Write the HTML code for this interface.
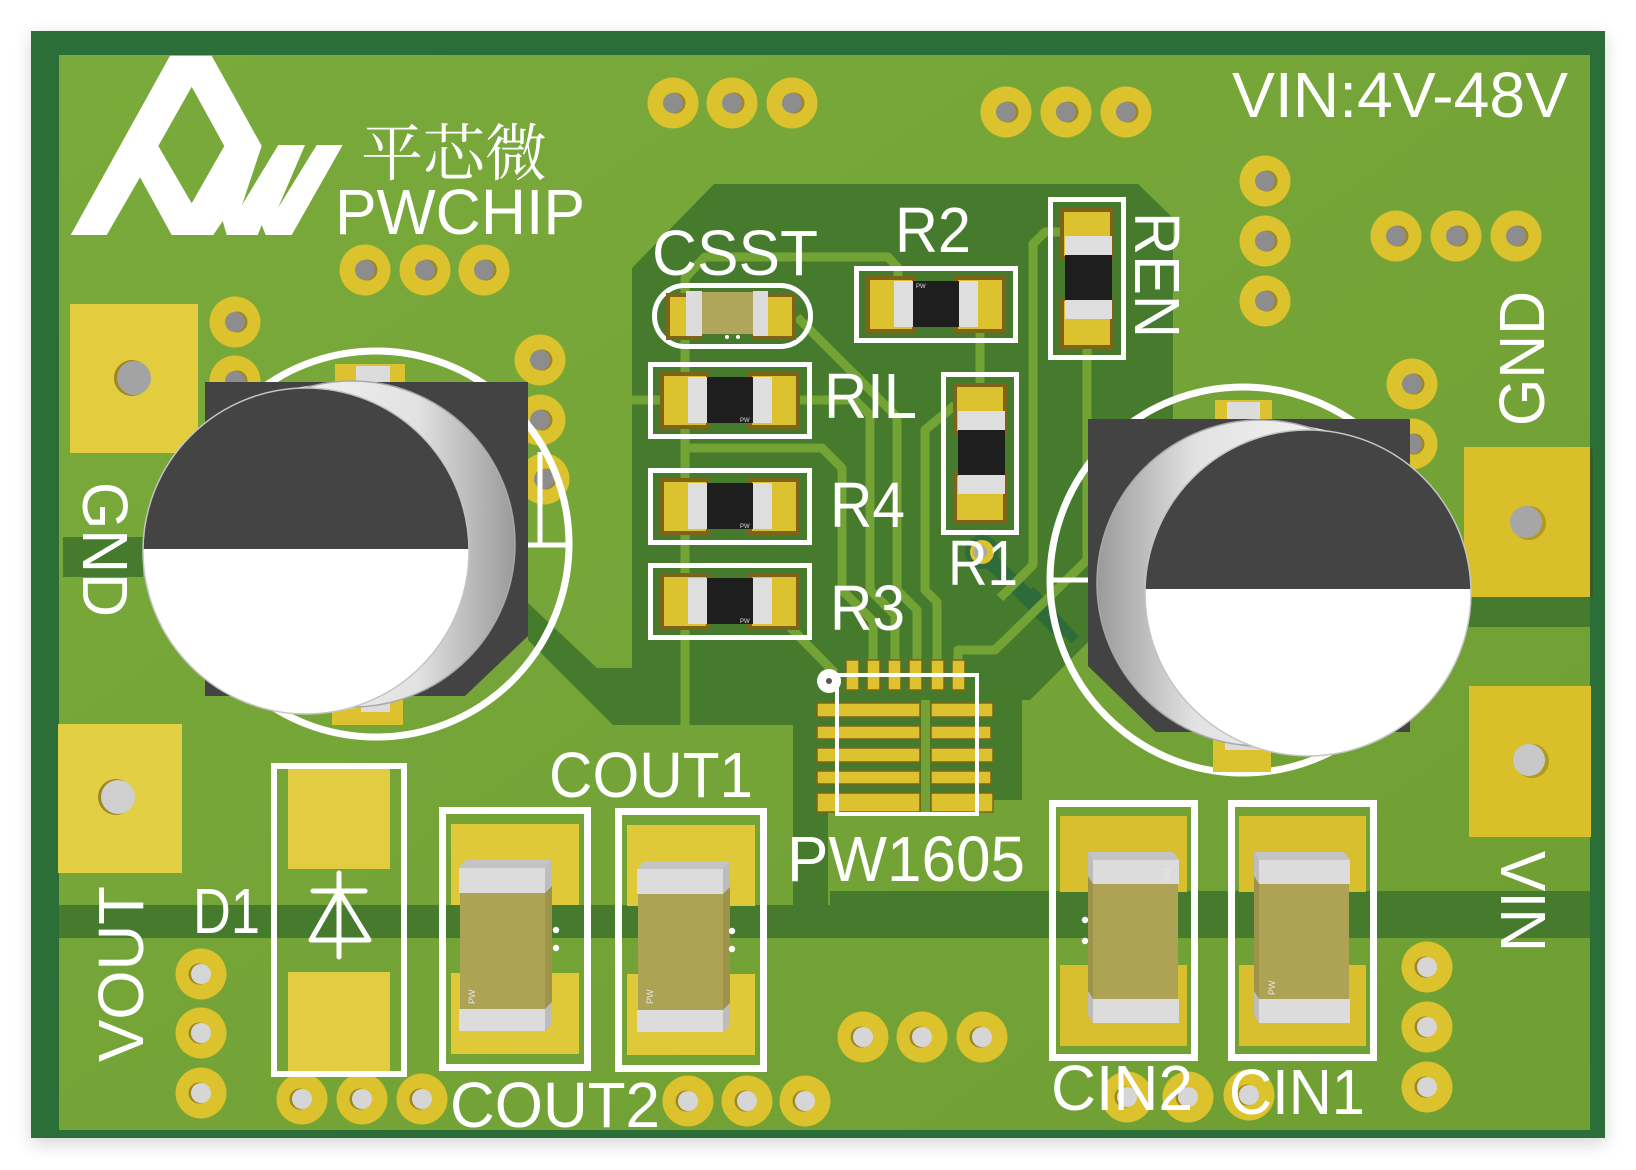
<!DOCTYPE html>
<html><head><meta charset="utf-8">
<style>
html,body{margin:0;padding:0;background:#fff;}
svg{display:block;}
text{font-family:"Liberation Sans",Arial,sans-serif;fill:#fff;}
</style></head><body>
<svg width="1636" height="1170" viewBox="0 0 1636 1170" xmlns="http://www.w3.org/2000/svg">
<defs>
<filter id="sh" x="-10%" y="-10%" width="120%" height="120%"><feGaussianBlur stdDeviation="9"/></filter>
<linearGradient id="lg" x1="0" y1="0" x2="1" y2="1">
 <stop offset="0" stop-color="#7aaa3b"/><stop offset="1" stop-color="#6f9f33"/>
</linearGradient>
<linearGradient id="rimL" x1="0" y1="0" x2="1" y2="0">
 <stop offset="0" stop-color="#ffffff"/><stop offset="0.7" stop-color="#e2e2e2"/><stop offset="1" stop-color="#9a9a9a"/>
</linearGradient>
<linearGradient id="rimR" x1="1" y1="0" x2="0" y2="0">
 <stop offset="0" stop-color="#ffffff"/><stop offset="0.7" stop-color="#e2e2e2"/><stop offset="1" stop-color="#9a9a9a"/>
</linearGradient>
<clipPath id="fL"><circle cx="306" cy="551" r="163"/></clipPath>
<clipPath id="fR"><circle cx="1308" cy="593" r="163"/></clipPath>
<g id="thd"><circle r="25.5" fill="#dcc22c"/><circle cx="2" r="10.5" fill="#9c8720"/><circle r="10" fill="#8d8d8d"/></g>
<g id="thl"><circle r="25.5" fill="#dcc22c"/><circle cx="-2" r="10.5" fill="#9c8720"/><circle r="10" fill="#d6d6d6"/></g>
<g id="rh">
 <rect x="2.5" y="2.5" width="159" height="72" fill="none" stroke="#fff" stroke-width="5"/>
 <rect x="12" y="10" width="50" height="57" fill="#7e6418"/>
 <rect x="16" y="14" width="42" height="49" fill="#dcc22e"/>
 <rect x="100" y="10" width="52" height="57" fill="#7e6418"/>
 <rect x="104" y="14" width="44" height="49" fill="#dcc22e"/>
 <rect x="40" y="15" width="19" height="46" fill="#dedede"/>
 <rect x="59" y="15" width="46" height="46" fill="#1e1e1e"/>
 <rect x="105" y="15" width="19" height="46" fill="#dedede"/>
</g>
<g id="rv">
 <rect x="2.5" y="2.5" width="73" height="158" fill="none" stroke="#fff" stroke-width="5"/>
 <rect x="12" y="11" width="54" height="52" fill="#7e6418"/>
 <rect x="16" y="15" width="46" height="44" fill="#dcc22e"/>
 <rect x="12" y="100" width="54" height="52" fill="#7e6418"/>
 <rect x="16" y="104" width="46" height="44" fill="#dcc22e"/>
 <rect x="17" y="39" width="47" height="19" fill="#dedede"/>
 <rect x="17" y="58" width="47" height="45" fill="#1e1e1e"/>
 <rect x="17" y="103" width="47" height="19" fill="#dedede"/>
</g>
</defs>

<rect width="1636" height="1170" fill="#fff"/>
<rect x="31" y="36" width="1574" height="1108" fill="#000" opacity="0.16" filter="url(#sh)"/>
<rect x="31" y="31" width="1574" height="1107" fill="#2b6e37"/>
<rect x="59" y="55" width="1531" height="1075" fill="url(#lg)"/>

<!-- dark pours -->
<g fill="#467b2e">
<polygon points="714,184 1138,184 1173,218 1173,430 1090,430 1090,640 1030,700 1022,700 1022,800 993,800 993,812 828,812 828,905 793,905 793,725 613,725 528,640 528,603 597,668 632,668 632,268"/>
<rect x="59" y="905" width="1531" height="33"/>
<rect x="830" y="891" width="760" height="16"/>
<rect x="63" y="537" width="80" height="40"/>
<rect x="1467" y="597" width="123" height="30"/>
</g>
<!-- bottom layer traces -->
<polyline points="975,545 1065,635" fill="none" stroke="#2d6b3a" stroke-width="16"/>
<polyline points="1030,590 1075,640" fill="none" stroke="#2d6b3a" stroke-width="10"/>

<!-- traces -->
<g fill="none" stroke="#73a235" stroke-width="9" stroke-linejoin="round" stroke-linecap="butt">
<polyline points="685,725 685,278 705,257 888,257 898,268 898,280"/>
<polyline points="632,400 665,400"/>
<polyline points="797,317 897,417 897,590 917,610 917,662"/>
<polyline points="795,400 855,400 870,415 870,590 895,615 895,662"/>
<polyline points="685,448 822,448 842,468 842,590 873,621 873,662"/>
<polyline points="785,622 835,673"/>
<polyline points="980,333 980,385"/>
<polyline points="955,405 925,430 925,590 937,602 937,662"/>
<polyline points="1087,348 1087,560 995,650 958,650 958,662"/>
<polyline points="1062,232 1045,232 1033,244 1033,565 1000,598"/>
<polyline points="925.5,700 925.5,812"/>
</g>

<!-- through-hole pads -->
<use href="#thd" x="673" y="103"/><use href="#thd" x="732" y="103"/><use href="#thd" x="792" y="103"/>
<use href="#thd" x="1006" y="112"/><use href="#thd" x="1066" y="112"/><use href="#thd" x="1126" y="112"/>
<use href="#thd" x="365" y="270"/><use href="#thd" x="425" y="270"/><use href="#thd" x="484" y="270"/>
<use href="#thd" x="1265" y="181"/><use href="#thd" x="1265" y="241"/><use href="#thd" x="1265" y="301"/>
<use href="#thd" x="1396" y="236"/><use href="#thd" x="1456" y="236"/><use href="#thd" x="1516" y="236"/>
<use href="#thd" x="235" y="322"/><use href="#thd" x="235" y="381"/>
<use href="#thd" x="540" y="360"/><use href="#thd" x="540" y="420"/><use href="#thd" x="544" y="479"/>
<use href="#thd" x="1412" y="384"/><use href="#thd" x="1412" y="444"/>
<use href="#thl" x="201" y="974"/><use href="#thl" x="201" y="1033"/><use href="#thl" x="201" y="1093"/>
<use href="#thl" x="302" y="1099"/><use href="#thl" x="362" y="1099"/><use href="#thl" x="422" y="1099"/>
<use href="#thl" x="688" y="1101"/><use href="#thl" x="747" y="1101"/><use href="#thl" x="805" y="1101"/>
<use href="#thl" x="863" y="1037"/><use href="#thl" x="922" y="1037"/><use href="#thl" x="982" y="1037"/>
<use href="#thl" x="1427" y="967"/><use href="#thl" x="1427" y="1027"/><use href="#thl" x="1427" y="1087"/>
<use href="#thl" x="1127" y="1097"/><use href="#thl" x="1188" y="1097"/><use href="#thl" x="1249" y="1095"/>

<!-- via near R1 -->
<circle cx="982" cy="552" r="17" fill="#2f6b3c"/>
<circle cx="982" cy="552" r="12" fill="#dcc22e"/>
<circle cx="980" cy="552" r="7" fill="#a9a9a9"/>

<!-- square pads -->
<rect x="70" y="304" width="128" height="149" fill="#e3cd3f"/>
<circle cx="132" cy="378" r="18" fill="#9c8720"/><circle cx="134" cy="378" r="17" fill="#a3a3a3"/>
<rect x="58" y="724" width="124" height="149" fill="#e3cf44"/>
<circle cx="116" cy="797" r="18" fill="#9c8720"/><circle cx="118" cy="797" r="17" fill="#cfcfcf"/>
<rect x="1464" y="447" width="126" height="150" fill="#d9bf2a"/>
<rect x="1590" y="449" width="3" height="148" fill="#3a5a2a"/>
<circle cx="1529" cy="523" r="17" fill="#b09a20"/><circle cx="1526" cy="522" r="16" fill="#a6a6a6"/>
<rect x="1469" y="686" width="122" height="151" fill="#d9bf2a"/>
<circle cx="1532" cy="761" r="17" fill="#b09a20"/><circle cx="1529" cy="760" r="16" fill="#c8c8c8"/>

<!-- logo -->
<path fill="#fff" fill-rule="evenodd" d="M170,55.7 L211.7,55.7 L261.7,146 L242,205 L278.3,145 L305,145 L278,208 L316.7,145 L342.7,145 L291.7,235 L265.7,235 L261.7,225 L257.7,235 L226.7,235 L222.7,221 L213.3,235 L171.7,235 L140,177.3 L106.7,235 L70.7,235 Z M191.7,86.7 L224.3,146 L191.7,203.3 L158.3,146 Z"/>

<!-- resistors -->
<use href="#rh" x="648" y="362"/>
<use href="#rh" x="648" y="468"/>
<use href="#rh" x="648" y="563"/>
<use href="#rh" x="854" y="266"/>
<use href="#rv" x="941" y="372"/>
<use href="#rv" x="1048" y="197"/>
<g font-size="6" style="fill:#ddd">
<text x="740" y="422" style="fill:#ddd">PW</text>
<text x="740" y="528" style="fill:#ddd">PW</text>
<text x="740" y="623" style="fill:#ddd">PW</text>
<text x="916" y="288" style="fill:#ddd">PW</text>
</g>

<!-- CSST -->
<rect x="654.5" y="285.5" width="156" height="61" rx="30.5" fill="none" stroke="#fff" stroke-width="5"/>
<rect x="666" y="293" width="36" height="47" fill="#7e6418"/>
<rect x="670" y="297" width="28" height="39" fill="#dcc22e"/>
<rect x="752" y="293" width="44" height="47" fill="#7e6418"/>
<rect x="756" y="297" width="36" height="39" fill="#dcc22e"/>
<rect x="686" y="291" width="16" height="45" fill="#dcdcdc"/>
<rect x="702" y="292" width="51" height="42" fill="#b0a55a"/>
<rect x="753" y="291" width="15" height="45" fill="#dcdcdc"/>
<circle cx="727" cy="337" r="2" fill="#fff"/><circle cx="738" cy="337" r="2" fill="#fff"/>

<!-- IC PW1605 -->
<g fill="#dcc22e" stroke="#7e6418" stroke-width="1.5">
<rect x="846" y="660" width="13" height="30"/><rect x="867" y="660" width="13" height="30"/>
<rect x="888" y="660" width="13" height="30"/><rect x="909" y="660" width="13" height="30"/>
<rect x="931" y="660" width="13" height="30"/><rect x="952" y="660" width="13" height="30"/>
<rect x="817" y="703" width="103" height="14"/><rect x="931" y="703" width="62" height="14"/>
<rect x="817" y="726" width="103" height="13"/><rect x="931" y="726" width="60" height="13"/>
<rect x="817" y="748" width="103" height="14"/><rect x="931" y="748" width="62" height="14"/>
<rect x="817" y="771" width="103" height="13"/><rect x="931" y="771" width="60" height="13"/>
<rect x="817" y="793" width="103" height="19"/><rect x="931" y="793" width="62" height="19"/>
</g>
<rect x="837" y="675" width="140" height="139" fill="none" stroke="#fff" stroke-width="4"/>
<circle cx="829" cy="681" r="12" fill="#fff"/><circle cx="829" cy="681" r="3" fill="#555"/>

<!-- D1 -->
<rect x="288" y="768" width="102" height="101" fill="#e2cd42"/>
<rect x="288" y="972" width="102" height="100" fill="#e2cd42"/>
<rect x="274" y="766" width="130" height="308" fill="none" stroke="#fff" stroke-width="6"/>
<g stroke="#fff" stroke-width="5" fill="none" stroke-linecap="round" stroke-linejoin="round">
<line x1="339" y1="873" x2="339" y2="957"/>
<line x1="313" y1="891" x2="365" y2="891"/>
<polygon points="339,891 311,940 369,940"/>
</g>

<!-- COUT caps -->
<g id="coutL">
<rect x="451" y="824" width="128" height="81" fill="#dfc939"/>
<rect x="451" y="973" width="128" height="81" fill="#dfc939"/>
<rect x="442.5" y="810.5" width="145" height="257" fill="none" stroke="#fff" stroke-width="7"/>
<polygon points="459,868 466,860 552,860 545,868" fill="#c4c4c4"/>
<rect x="459" y="868" width="86" height="25" fill="#dcdcdc"/>
<polygon points="545,868 552,860 552,886 545,893" fill="#bdbdbd"/>
<rect x="460" y="893" width="85" height="116" fill="#aea355"/>
<polygon points="545,893 552,886 552,1002 545,1009" fill="#9d934a"/>
<rect x="459" y="1009" width="86" height="22" fill="#dcdcdc"/>
<polygon points="545,1009 552,1002 552,1024 545,1031" fill="#bdbdbd"/>
<circle cx="556" cy="930" r="3.2" fill="#fff"/><circle cx="556" cy="948" r="3.2" fill="#fff"/>
</g>
<text transform="translate(475,1004) rotate(-90)" font-size="9" style="fill:#e6e6e6">PW</text>
<g transform="translate(176,1)">
<rect x="451" y="824" width="128" height="81" fill="#dfc939"/>
<rect x="451" y="973" width="128" height="81" fill="#dfc939"/>
<rect x="442.5" y="810.5" width="145" height="257" fill="none" stroke="#fff" stroke-width="7"/>
<polygon points="461,868 468,860 554,860 547,868" fill="#c4c4c4"/>
<rect x="461" y="868" width="86" height="25" fill="#dcdcdc"/>
<polygon points="547,868 554,860 554,886 547,893" fill="#bdbdbd"/>
<rect x="462" y="893" width="85" height="116" fill="#aea355"/>
<polygon points="547,893 554,886 554,1002 547,1009" fill="#9d934a"/>
<rect x="461" y="1009" width="86" height="22" fill="#dcdcdc"/>
<polygon points="547,1009 554,1002 554,1024 547,1031" fill="#bdbdbd"/>
<circle cx="556" cy="930" r="3.2" fill="#fff"/><circle cx="556" cy="948" r="3.2" fill="#fff"/>
</g>
<text transform="translate(653,1004) rotate(-90)" font-size="9" style="fill:#e6e6e6">PW</text>

<!-- CIN caps -->
<rect x="1060" y="816" width="127" height="76" fill="#d9bf2e"/>
<rect x="1060" y="965" width="127" height="81" fill="#d9bf2e"/>
<rect x="1052.5" y="803.5" width="142" height="254" fill="none" stroke="#fff" stroke-width="7"/>
<polygon points="1088,852 1173,852 1179,860 1093,860" fill="#c4c4c4"/>
<rect x="1093" y="860" width="86" height="24" fill="#dcdcdc"/>
<polygon points="1088,852 1093,860 1093,884 1088,876" fill="#bdbdbd"/>
<rect x="1093" y="884" width="85" height="115" fill="#aea355"/>
<polygon points="1088,876 1093,884 1093,999 1088,991" fill="#9d934a"/>
<rect x="1093" y="999" width="86" height="24" fill="#dcdcdc"/>
<polygon points="1088,991 1093,999 1093,1023 1088,1015" fill="#bdbdbd"/>
<circle cx="1085" cy="920" r="3.2" fill="#fff"/><circle cx="1085" cy="941" r="3.2" fill="#fff"/>
<text transform="translate(1163,868) rotate(90)" font-size="9" style="fill:#e6e6e6">PW</text>

<rect x="1239" y="816" width="127" height="76" fill="#d9bf2e"/>
<rect x="1239" y="965" width="127" height="81" fill="#d9bf2e"/>
<rect x="1231.5" y="803.5" width="142" height="254" fill="none" stroke="#fff" stroke-width="7"/>
<polygon points="1254,852 1344,852 1350,860 1259,860" fill="#c4c4c4"/>
<rect x="1259" y="860" width="91" height="24" fill="#dcdcdc"/>
<polygon points="1254,852 1259,860 1259,884 1254,876" fill="#bdbdbd"/>
<rect x="1259" y="884" width="90" height="115" fill="#aea355"/>
<polygon points="1254,876 1259,884 1259,999 1254,991" fill="#9d934a"/>
<rect x="1259" y="999" width="91" height="24" fill="#dcdcdc"/>
<polygon points="1254,991 1259,999 1259,1023 1254,1015" fill="#bdbdbd"/>
<text transform="translate(1275,995) rotate(-90)" font-size="9" style="fill:#e6e6e6">PW</text>

<!-- LEFT big capacitor -->
<circle cx="376" cy="544" r="193" fill="none" stroke="#fff" stroke-width="7"/>
<line x1="540" y1="452" x2="540" y2="545" stroke="#fff" stroke-width="5"/>
<line x1="526" y1="545" x2="569" y2="545" stroke="#fff" stroke-width="5"/>
<rect x="335" y="364" width="70" height="22" fill="#dcc22e"/>
<rect x="356" y="366" width="34" height="20" fill="#dcdcdc"/>
<rect x="332" y="690" width="71" height="35" fill="#dcc22e"/>
<rect x="361" y="690" width="29" height="22" fill="#dcdcdc"/>
<polygon points="205,382 528,382 528,636 465,696 205,696" fill="#434343"/>
<polygon points="330.5,712 281.5,390 327.5,383 376.5,705" fill="url(#rimL)"/>
<circle cx="352" cy="544" r="163" fill="url(#rimL)" stroke="#a8a8a8" stroke-width="1.5"/>
<circle cx="306" cy="551" r="163" fill="#fff"/>
<rect x="130" y="380" width="360" height="169" fill="#444" clip-path="url(#fL)"/>
<circle cx="306" cy="551" r="163" fill="none" stroke="#c4c4c4" stroke-width="1.5"/>

<!-- RIGHT big capacitor -->
<circle cx="1243" cy="580" r="193" fill="none" stroke="#fff" stroke-width="7"/>
<line x1="1048" y1="580" x2="1088" y2="580" stroke="#fff" stroke-width="5"/>
<rect x="1215" y="400" width="57" height="20" fill="#dcc22e"/>
<rect x="1227" y="402" width="33" height="18" fill="#dcdcdc"/>
<rect x="1213" y="728" width="58" height="44" fill="#dcc22e"/>
<rect x="1225" y="728" width="37" height="22" fill="#dcdcdc"/>
<polygon points="1088,419 1410,419 1410,732 1156,732 1088,666" fill="#434343"/>
<polygon points="1341.3,433.4 1274.7,752.6 1226.7,742.6 1293.3,423.4" fill="url(#rimR)"/>
<circle cx="1260" cy="583" r="163" fill="url(#rimR)" stroke="#a8a8a8" stroke-width="1.5"/>
<circle cx="1308" cy="593" r="163" fill="#fff"/>
<rect x="1130" y="420" width="360" height="169" fill="#444" clip-path="url(#fR)"/>
<circle cx="1308" cy="593" r="163" fill="none" stroke="#c4c4c4" stroke-width="1.5"/>

<!-- labels -->
<g font-size="64">
<text x="1232" y="117" textLength="336" lengthAdjust="spacingAndGlyphs">VIN:4V-48V</text>
<text x="335" y="234" textLength="250" lengthAdjust="spacingAndGlyphs">PWCHIP</text>
<text x="652" y="275" textLength="166" lengthAdjust="spacingAndGlyphs">CSST</text>
<text x="895" y="252" textLength="76" lengthAdjust="spacingAndGlyphs">R2</text>
<text x="824" y="418" textLength="93" lengthAdjust="spacingAndGlyphs">RIL</text>
<text x="830" y="527" textLength="75" lengthAdjust="spacingAndGlyphs">R4</text>
<text x="830" y="630" textLength="75" lengthAdjust="spacingAndGlyphs">R3</text>
<text x="948" y="585" textLength="70" lengthAdjust="spacingAndGlyphs">R1</text>
<text x="193" y="933" textLength="67" lengthAdjust="spacingAndGlyphs">D1</text>
<text x="549" y="797" textLength="204" lengthAdjust="spacingAndGlyphs">COUT1</text>
<text x="450" y="1127" textLength="210" lengthAdjust="spacingAndGlyphs">COUT2</text>
<text x="787" y="881" textLength="238" lengthAdjust="spacingAndGlyphs">PW1605</text>
<text x="1051" y="1110" textLength="142" lengthAdjust="spacingAndGlyphs">CIN2</text>
<text x="1229" y="1114" textLength="136" lengthAdjust="spacingAndGlyphs">CIN1</text>
<text transform="translate(1135,212) rotate(90)" textLength="126" lengthAdjust="spacingAndGlyphs">REN</text>
<text transform="translate(83,482) rotate(90)" textLength="135" lengthAdjust="spacingAndGlyphs">GND</text>
<text transform="translate(1501,851) rotate(90)" textLength="101" lengthAdjust="spacingAndGlyphs">VIN</text>
<text transform="translate(1544,426) rotate(-90)" textLength="135" lengthAdjust="spacingAndGlyphs">GND</text>
<text transform="translate(143,1062) rotate(-90)" textLength="176" lengthAdjust="spacingAndGlyphs">VOUT</text>
</g>
<text x="361" y="175" font-size="62" textLength="186" lengthAdjust="spacingAndGlyphs" style="font-family:'Noto Serif CJK SC','Noto Sans CJK SC',serif;fill:#fff">平芯微</text>
</svg>
</body></html>
